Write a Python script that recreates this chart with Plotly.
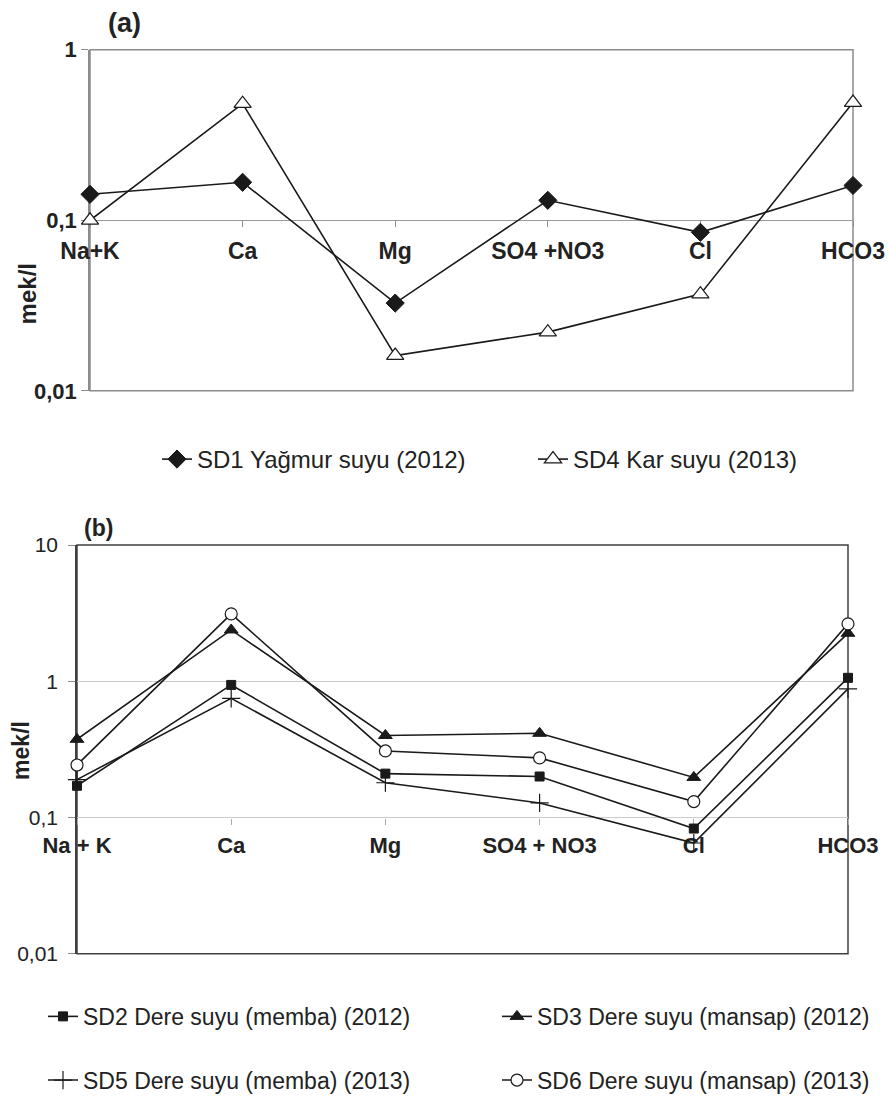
import plotly.graph_objects as go

# ---------------- data ----------------
categories_a = ["Na+K", "Ca", "Mg", "SO4 +NO3", "Cl", "HCO3"]
sd1_yagmur_2012 = [0.142, 0.167, 0.0327, 0.131, 0.085, 0.160]
sd4_kar_2013 = [0.100, 0.483, 0.0161, 0.0221, 0.0369, 0.490]

categories_b = ["Na + K", "Ca", "Mg", "SO4 + NO3", "Cl", "HCO3"]
sd2_memba_2012 = [0.171, 0.94, 0.21, 0.20, 0.083, 1.06]
sd3_mansap_2012 = [0.375, 2.38, 0.40, 0.415, 0.197, 2.25]
sd5_memba_2013 = [0.190, 0.75, 0.180, 0.128, 0.065, 0.88]
sd6_mansap_2013 = [0.243, 3.12, 0.308, 0.274, 0.131, 2.64]

ticks_a = [0.01, 0.1, 1]
ticktext_a = ["0,01", "0,1", "1"]
ticks_b = [0.01, 0.1, 1, 10]
ticktext_b = ["0,01", "0,1", "1", "10"]

# ---------------- layout geometry (page pixels) ----------------
W, H = 889, 1102

def px_x(p):
    return p / W

def px_y(p):
    return 1 - p / H

dom_xa = [px_x(90), px_x(853)]
dom_ya = [px_y(393), px_y(50)]
dom_xb = [px_x(77), px_x(848)]
dom_yb = [px_y(959), px_y(548)]
pos_a = dom_ya[0] + (dom_ya[1] - dom_ya[0]) * 0.5     # 0.1 line (log range -2..0)
pos_b = dom_yb[0] + (dom_yb[1] - dom_yb[0]) / 3.0     # 0.1 line (log range -2..1)

LINE = "#1a1a1a"
FONT = "Liberation Sans, Arial, sans-serif"

xa = list(range(len(categories_a)))
xb = list(range(len(categories_b)))

fig = go.Figure()

def add(x, y, name, xaxis, yaxis, legend, marker):
    fig.add_trace(go.Scatter(
        x=x, y=y, name=name, mode="lines+markers",
        xaxis=xaxis, yaxis=yaxis, legend=legend, showlegend=True,
        line=dict(color=LINE, width=1.6),
        marker=marker, cliponaxis=False,
    ))

add(xa, sd1_yagmur_2012, "SD1 Yağmur suyu (2012)", "x", "y", "legend",
    dict(symbol="diamond", size=14, color=LINE, line=dict(color=LINE, width=1)))
add(xa, sd4_kar_2013, "SD4 Kar suyu (2013)", "x", "y", "legend2",
    dict(symbol="triangle-up", size=15, color="white", line=dict(color=LINE, width=1.2)))

add(xb, sd2_memba_2012, "SD2 Dere suyu (memba) (2012)", "x2", "y2", "legend3",
    dict(symbol="square", size=9, color=LINE, line=dict(color=LINE, width=1)))
add(xb, sd3_mansap_2012, "SD3 Dere suyu (mansap) (2012)", "x2", "y2", "legend4",
    dict(symbol="triangle-up", size=12, color=LINE, line=dict(color=LINE, width=1)))
add(xb, sd5_memba_2013, "SD5 Dere suyu (memba) (2013)", "x2", "y2", "legend5",
    dict(symbol="cross-thin-open", size=13, color=LINE, line=dict(color=LINE, width=1.2)))
add(xb, sd6_mansap_2013, "SD6 Dere suyu (mansap) (2013)", "x2", "y2", "legend6",
    dict(symbol="circle", size=12, color="white", line=dict(color=LINE, width=1.2)))

GRAY_A = "#8c8c8c"
GRAY_B = "#404040"

def xaxis_cfg(domain, pos, cats, size, color, standoff):
    return dict(
        domain=domain, anchor="free", position=pos, type="linear",
        range=[0, len(cats) - 1], tickvals=list(range(len(cats))), ticktext=cats,
        ticks="outside", ticklen=6, tickwidth=1, tickcolor=color,
        showline=False, showgrid=False, zeroline=False, automargin=False,
        tickfont=dict(family=FONT, size=size, color="#222", weight="bold"),
        ticklabelstandoff=standoff, layer="below traces",
    )

def yaxis_cfg(domain, anchor, rng, tv, tt, linecolor, gridcolor, font, standoff):
    return dict(
        domain=domain, anchor=anchor, type="log", range=rng,
        tickvals=tv, ticktext=tt, ticks="outside", ticklen=7, tickcolor="#8c8c8c",
        showline=True, linecolor=linecolor, linewidth=1.5, mirror=False,
        showgrid=True, gridcolor=gridcolor, gridwidth=1, zeroline=False,
        automargin=False,
        tickfont=font, ticklabelstandoff=standoff, layer="below traces",
    )

def leg(x_text, y_center, size):
    return dict(bgcolor="rgba(0,0,0,0)", borderwidth=0, xanchor="left",
                yanchor="middle", x=px_x(x_text - 40), y=px_y(y_center),
                font=dict(family=FONT, size=size, color="#222"))

fig.update_layout(
    template="none",
    width=W, height=H, autosize=False,
    margin=dict(l=0, r=0, t=0, b=0, pad=0),
    paper_bgcolor="white", plot_bgcolor="white",
    showlegend=True,
    xaxis=xaxis_cfg(dom_xa, pos_a, categories_a, 23, GRAY_A, 4),
    yaxis=yaxis_cfg(dom_ya, "x", [-2, 0], ticks_a, ticktext_a, GRAY_A, "#9a9a9a",
                    dict(family=FONT, size=22, color="#222", weight="bold"), 0),
    xaxis2=xaxis_cfg(dom_xb, pos_b, categories_b, 22, "#aaaaaa", 2),
    yaxis2=yaxis_cfg(dom_yb, "x2", [-2, 1], ticks_b, ticktext_b, GRAY_B, "#cccccc",
                     dict(family=FONT, size=21, color="#222"), 6),
    legend=leg(197, 462, 24),
    legend2=leg(573, 462, 24),
    legend3=leg(83, 1022, 23),
    legend4=leg(537, 1022, 23),
    legend5=leg(83, 1086, 23),
    legend6=leg(537, 1086, 23),
    shapes=[
        dict(type="rect", xref="x domain", yref="y domain", x0=0, x1=1, y0=0, y1=1,
             line=dict(color=GRAY_A, width=1.5), layer="below"),
        dict(type="rect", xref="x2 domain", yref="y2 domain", x0=0, x1=1, y0=0, y1=1,
             line=dict(color=GRAY_B, width=1.5), layer="below"),
    ],
    annotations=[
        dict(text="<b>(a)</b>", x=px_x(124), y=px_y(23), xref="paper", yref="paper",
             showarrow=False, font=dict(family=FONT, size=27, color="#222"),
             xanchor="center", yanchor="middle"),
        dict(text="<b>(b)</b>", x=px_x(98), y=px_y(531), xref="paper", yref="paper",
             showarrow=False, font=dict(family=FONT, size=23, color="#222"),
             xanchor="center", yanchor="middle"),
        dict(text="<b>mek/l</b>", x=px_x(27), y=px_y(296), xref="paper", yref="paper",
             showarrow=False, textangle=-90, font=dict(family=FONT, size=24, color="#222"),
             xanchor="center", yanchor="middle"),
        dict(text="<b>mek/l</b>", x=px_x(21), y=px_y(755), xref="paper", yref="paper",
             showarrow=False, textangle=-90, font=dict(family=FONT, size=23, color="#222"),
             xanchor="center", yanchor="middle"),
    ],
)

fig.write_html(
    "out.html",
    config={"displayModeBar": False},
    post_script="document.body.style.margin='0';document.body.style.overflow='hidden';",
)
